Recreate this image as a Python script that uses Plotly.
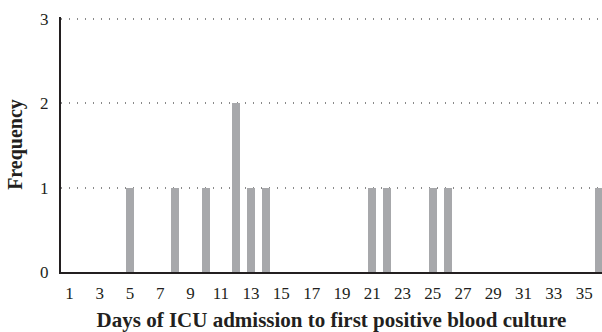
import plotly.graph_objects as go

days = [5, 8, 10, 12, 13, 14, 21, 22, 25, 26, 36]
freq = [1, 1, 1, 2, 1, 1, 1, 1, 1, 1, 1]
x_ticks = list(range(1, 36, 2))
y_ticks = [0, 1, 2, 3]

fig = go.Figure(go.Bar(x=days, y=freq, width=0.53, marker_color="#a7a8ab", marker_line_width=0,
                       cliponaxis=True))

font = "Liberation Serif"
fig.update_layout(
    width=602, height=332,
    margin=dict(l=61, r=0, t=17, b=60, autoexpand=False),
    plot_bgcolor="white", paper_bgcolor="white",
    font=dict(family=font, size=17, color="#231f20"),
    showlegend=False,
    bargap=0,
)
fig.update_xaxes(
    range=[0.443, 36.18], tickvals=x_ticks, ticktext=[str(v) for v in x_ticks],
    showgrid=False, zeroline=False, showline=True, linecolor="#231f20", linewidth=2,
    ticks="", ticklen=0, automargin=False, ticklabelstandoff=5,
    title=dict(text="<b>Days of ICU admission to first positive blood culture</b>", font=dict(size=21), standoff=10),
)
fig.update_yaxes(
    range=[0, 3.02], tickvals=y_ticks, showgrid=True, gridcolor="#8a8a8a", griddash="1px 7px", gridwidth=1.5,
    zeroline=False, showline=True, linecolor="#231f20", linewidth=2, ticks="", ticklen=0,
    ticklabelstandoff=7, automargin=False,
    title=dict(text="<b>Frequency</b>", font=dict(size=20), standoff=12),
)
fig.write_html(
    "out.html",
    config={"displayModeBar": False},
    post_script="document.body.style.margin='0';document.body.style.overflow='hidden';",
)
